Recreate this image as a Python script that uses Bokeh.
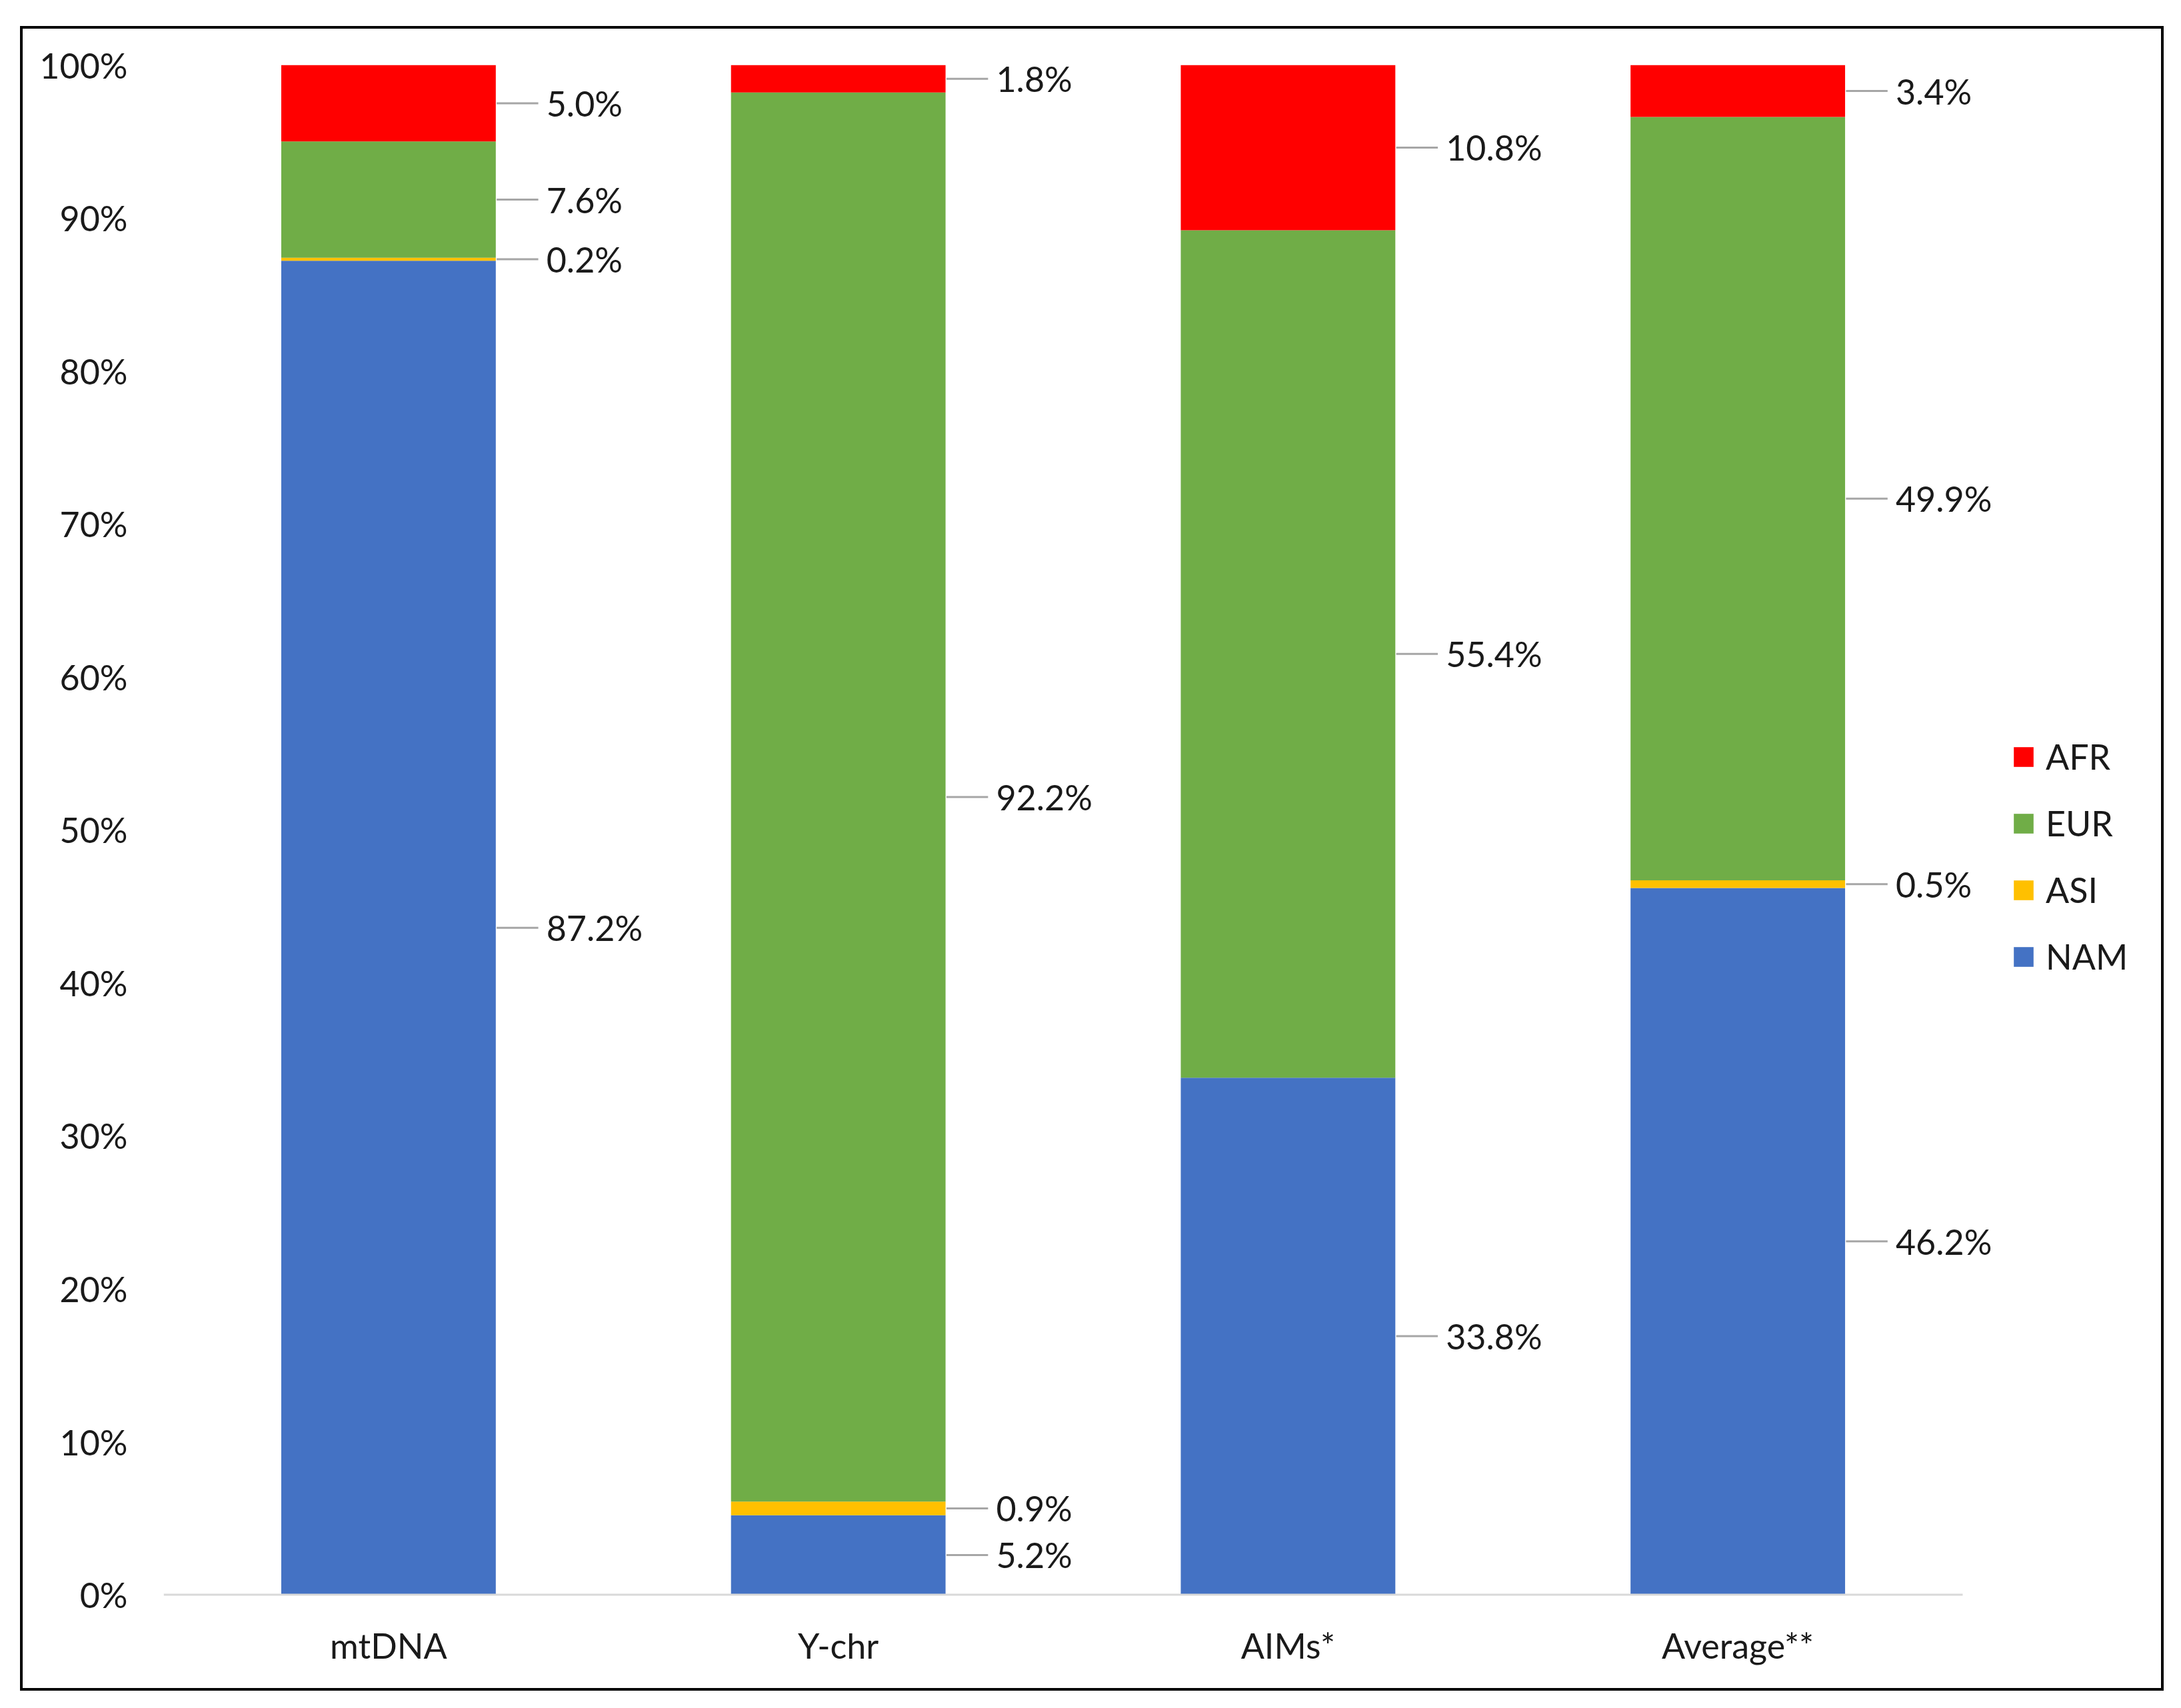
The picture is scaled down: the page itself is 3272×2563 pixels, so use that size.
import numpy as np
from bokeh.plotting import figure
from bokeh.models import (ColumnDataSource, Range1d, FixedTicker,
                          NumeralTickFormatter, Legend, LegendItem)
from bokeh.layouts import column
from bokeh.core.properties import value
from bokeh.embed import file_html
from bokeh.resources import INLINE

# ---- data ----
categories = ["mtDNA", "Y-chr", "AIMs*", "Average**"]
series = ["NAM", "ASI", "EUR", "AFR"]
nam = [87.2, 5.2, 33.8, 46.2]
asi = [0.2, 0.9, 0.0, 0.5]
eur = [7.6, 92.2, 55.4, 49.9]
afr = [5.0, 1.8, 10.8, 3.4]
colors = ["#4472C4", "#FFC000", "#70AD47", "#FF0000"]
y_ticks = [0, 10, 20, 30, 40, 50, 60, 70, 80, 90, 100]

FONT = "Lato"
FS = "52px"
TXT = "#1a1a1a"
BAR_W = 0.477

vals = np.array([nam, asi, eur, afr], dtype=float)
totals = vals.sum(axis=0)
fracs = vals / totals  # 100% stacked, as in the source chart
xpos = np.arange(len(categories)) + 0.5

data = {"x": list(xpos)}
for s, f in zip(series, fracs):
    data[s] = list(f)
src = ColumnDataSource(data)

W, H = 3208, 2490
LEFT, RIGHT, TOP, BOTTOM = 211, 10, 54, 137
cat_px = 2699 / len(categories)
x_end = (W - LEFT - RIGHT) / cat_px

p = figure(width=W, height=H, x_range=Range1d(0, x_end),
           y_range=Range1d(-0.0015, 1), output_backend="svg", toolbar_location=None,
           min_border_left=LEFT, min_border_right=RIGHT, min_border_top=TOP,
           min_border_bottom=BOTTOM)
p.outline_line_color = None
p.grid.visible = False
p.background_fill_color = "white"
p.border_fill_color = "white"

renderers = p.vbar_stack(series, x="x", width=BAR_W, color=colors, source=src,
                         line_color=None)

# baseline (category axis line)
p.segment(x0=[0], y0=[0], x1=[len(categories)], y1=[0],
          line_color="#d9d9d9", line_width=3)

# data labels with leader lines
lx, ly, lt = [], [], []
bottoms = np.zeros(len(categories))
for i, s in enumerate(series):
    for j, c in enumerate(categories):
        v = vals[i, j]
        if v > 0:
            lx.append(xpos[j])
            ly.append(bottoms[j] + fracs[i, j] / 2)
            lt.append(f"{v:.1f}%")
    bottoms = bottoms + fracs[i]
lx = np.array(lx)
lsrc = ColumnDataSource(dict(x0=lx + BAR_W / 2 + 0.002, x1=lx + 0.333,
                             xt=lx + 0.351, y=ly, t=lt))
p.segment(x0="x0", y0="y", x1="x1", y1="y",
          source=lsrc, line_color="#a6a6a6", line_width=3)
p.text(x="xt", y="y", text="t", source=lsrc,
       text_font=value(FONT), text_font_size=FS, text_color=TXT,
       text_align="left", text_baseline="middle")

# axes
p.yaxis.ticker = FixedTicker(ticks=[t / 100 for t in y_ticks])
p.yaxis.formatter = NumeralTickFormatter(format="0%")
p.yaxis.axis_line_color = None
p.yaxis.major_tick_line_color = None
p.yaxis.minor_tick_line_color = None
p.yaxis.major_label_standoff = 48
p.yaxis.major_label_text_font = FONT
p.yaxis.major_label_text_font_size = FS
p.yaxis.major_label_text_color = TXT

p.xaxis.ticker = FixedTicker(ticks=list(xpos))
p.xaxis.major_label_overrides = {float(x): c for x, c in zip(xpos, categories)}
p.xaxis.axis_line_color = None
p.xaxis.major_tick_line_color = None
p.xaxis.minor_tick_line_color = None
p.xaxis.major_label_standoff = 35
p.xaxis.major_label_text_font = FONT
p.xaxis.major_label_text_font_size = FS
p.xaxis.major_label_text_color = TXT

# legend (AFR on top)
items = [LegendItem(label=s, renderers=[r]) for s, r in zip(series, renderers)][::-1]
legend = Legend(items=items, location=(2772, 930), orientation="vertical",
                glyph_width=37, glyph_height=37, label_height=30, spacing=38,
                label_standoff=15, padding=0, margin=0,
                border_line_color=None, background_fill_alpha=0,
                label_text_font=FONT, label_text_font_size=FS,
                label_text_color=TXT, label_text_baseline="middle")
p.add_layout(legend, "center")

layout = column(p, styles={"border": "4px solid #000000"}, margin=(39, 0, 0, 30))

open("out.html", "w").write(file_html(layout, INLINE))
